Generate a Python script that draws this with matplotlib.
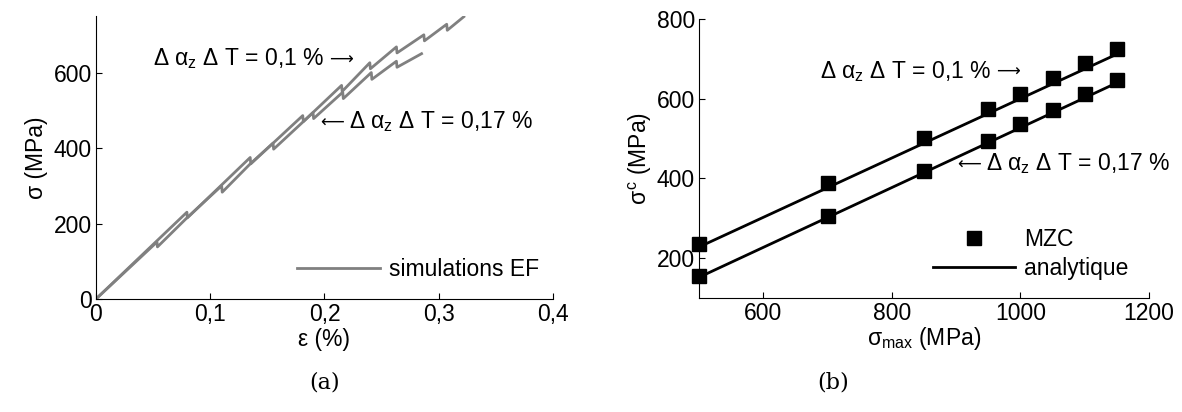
import matplotlib
matplotlib.use("Agg")
import matplotlib.pyplot as plt
from matplotlib.transforms import offset_copy

plt.rcParams['font.family'] = ['Liberation Sans', 'DejaVu Sans']
plt.rcParams['mathtext.fontset'] = 'custom'
plt.rcParams['mathtext.rm'] = 'Liberation Sans'
plt.rcParams['mathtext.it'] = 'Liberation Sans'
plt.rcParams['mathtext.bf'] = 'Liberation Sans:bold'
plt.rcParams['font.size'] = 16.5

# (a) finite element simulations, sawtooth stress-strain curves
eps_01 = [0, 0.0796, 0.0800, 0.135, 0.1355, 0.181, 0.1815, 0.215, 0.2155,
          0.2397, 0.2402, 0.263, 0.2635, 0.287, 0.2875, 0.307, 0.3075, 0.322]
sig_01 = [0, 230, 215, 375, 358, 486, 470, 566, 550,
          626, 610, 668, 652, 700, 684, 728, 712, 748]

eps_017 = [0, 0.0534, 0.0538, 0.0796, 0.110, 0.1105, 0.135, 0.155, 0.1555,
           0.1815, 0.190, 0.1905, 0.216, 0.2165, 0.241, 0.2415, 0.263, 0.2635, 0.285]
sig_017 = [0, 151, 138, 215, 300, 283, 358, 413, 397,
           470, 494, 478, 548, 531, 600, 582, 630, 614, 650]

# (b) MZC points and analytical lines
smax = [500, 700, 850, 950, 1000, 1050, 1100, 1150]
sigc_01 = [235, 389, 502, 574, 612, 651, 689, 724]
sigc_017 = [154, 306, 418, 495, 537, 572, 612, 647]
smax_line = [500, 1150]
ana_01 = [228, 712]
ana_017 = [152, 640]

lbl_01 = r'Δ $\alpha_z$ Δ T = 0,1 %'
lbl_017 = r'Δ $\alpha_z$ Δ T = 0,17 %'

fig = plt.figure(figsize=(11.82, 4.12), dpi=100)
ax1 = fig.add_axes([0.0812, 0.2743, 0.3866, 0.687])
ax2 = fig.add_axes([0.5914, 0.2767, 0.3807, 0.677])
renderer = fig.canvas.get_renderer()

arrow_kw = dict(family='DejaVu Sans', fontsize=12, va='baseline')


def label_then_arrow(ax, x, y, s):
    # text, then a long arrow pointing right
    t = ax.text(x, y, s, va='baseline')
    w = t.get_window_extent(renderer).width
    ax.text(x, y, '⟶', transform=offset_copy(ax.transData, fig, x=w + 5, y=1, units='dots'),
            **arrow_kw)


def arrow_then_label(ax, x, y, s):
    # long arrow pointing left, then text
    a = ax.text(x, y, '⟵', transform=offset_copy(ax.transData, fig, y=1, units='dots'),
                **arrow_kw)
    w = a.get_window_extent(renderer).width
    ax.text(x, y, s, va='baseline',
            transform=offset_copy(ax.transData, fig, x=w + 5, units='dots'))


gray = '#808080'
ax1.plot(eps_01, sig_01, color=gray, lw=2, label='simulations EF')
ax1.plot(eps_017, sig_017, color=gray, lw=2)
ax1.set_xlim(0, 0.4)
ax1.set_ylim(0, 750)
ax1.set_xticks([0, 0.1, 0.2, 0.3, 0.4])
ax1.set_xticklabels(['0', '0,1', '0,2', '0,3', '0,4'])
ax1.set_yticks([0, 200, 400, 600])
ax1.set_xlabel('ε (%)', labelpad=1)
ax1.set_ylabel('σ (MPa)', labelpad=4)
label_then_arrow(ax1, 0.0499, 619, lbl_01)
arrow_then_label(ax1, 0.196, 452, lbl_017)
ax1.legend(loc='lower right', bbox_to_anchor=(0.99, 0.03), frameon=False,
           handlelength=3.6, handletextpad=0.4, borderaxespad=0)

ax2.plot(smax_line, ana_01, color='black', lw=2, label='analytique')
ax2.plot(smax_line, ana_017, color='black', lw=2)
ax2.plot(smax, sigc_01, 's', color='black', ms=9.5, clip_on=False, label='MZC')
ax2.plot(smax, sigc_017, 's', color='black', ms=9.5, clip_on=False)
ax2.set_xlim(500, 1200)
ax2.set_ylim(100, 800)
ax2.set_xticks([600, 800, 1000, 1200])
ax2.set_yticks([200, 400, 600, 800])
ax2.set_xlabel(r'$\sigma_{\mathrm{max}}$ (MPa)', labelpad=0)
ax2.set_ylabel(r'$\sigma^{\mathrm{c}}$ (MPa)', labelpad=2)
label_then_arrow(ax2, 688, 652, lbl_01)
arrow_then_label(ax2, 901, 420, lbl_017)
h, l = ax2.get_legend_handles_labels()
ax2.legend([h[1], h[0]], [l[1], l[0]], loc='lower right', bbox_to_anchor=(0.975, 0.03),
           frameon=False, handlelength=3.6, handletextpad=0.4, labelspacing=0.3,
           borderaxespad=0)

for ax in (ax1, ax2):
    ax.spines['top'].set_visible(False)
    ax.spines['right'].set_visible(False)
    ax.tick_params(direction='in', length=4, pad=3)

fig.text(325 / 1182, 1 - 383 / 412, '(a)', family='DejaVu Serif', fontsize=16,
         ha='center', va='center')
fig.text(833 / 1182, 1 - 383 / 412, '(b)', family='DejaVu Serif', fontsize=16,
         ha='center', va='center')

fig.savefig('out.png', dpi=100, facecolor='w')
